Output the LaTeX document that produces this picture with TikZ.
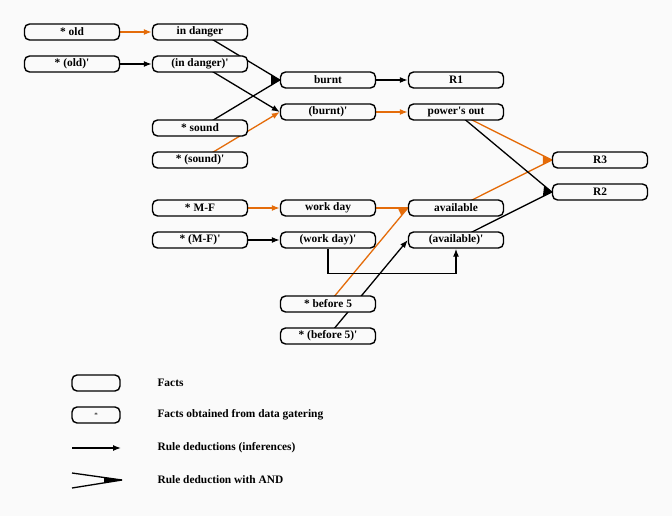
\documentclass[tikz,border=0pt]{standalone}
\usepackage{fontspec}
\setmainfont{Liberation Serif}
\usetikzlibrary{shapes.geometric, arrows, arrows.meta}
\usetikzlibrary{calc}
\definecolor{paper}{RGB}{250,250,250}
\definecolor{orng}{RGB}{228,108,10}
\newcommand{\fcfont}{\fontsize{11.4pt}{13pt}\selectfont\bfseries}
\newcommand{\pr}{\textquotesingle}
\tikzstyle{fact} = [rectangle, rounded corners=5pt, minimum width=95pt, minimum height=16pt, inner sep=1pt, text centered, draw=black, line width=1.4pt, fill=paper, font=\fcfont]
\tikzstyle{arrow} = [-{Latex[length=8pt,width=6pt]}, line width=1.3pt]
\tikzstyle{oarrow} = [arrow, draw=orng]
\tikzstyle{andline} = [line width=1.3pt]
\tikzstyle{keytext} = [anchor=west, font=\fcfont]
% filled wedge between two incoming lines (AND)
\newcommand{\andhead}[5]{\fill[#1] (#2) -- ($(#2)!#5!(#3)$) -- ($(#2)!#5!(#4)$) -- cycle;}
\pgfdeclarelayer{bg}
\pgfdeclarelayer{lines}
\pgfsetlayers{bg,lines,main}

\begin{document}
\begin{tikzpicture}[x=1pt, y=-1pt, node distance=128pt]
	\useasboundingbox (0,0) rectangle (672,516);
	\begin{pgfonlayer}{bg}
	\fill[paper] (0,0) rectangle (672,516);
	\end{pgfonlayer}
	% facts
	\node (old) [fact] at (72,32) {* old};
	\node (oldn) [fact] at (72,64) {* (old)\pr};
	\node (indanger) [fact, right of=old] {in danger};
	\node (indangern) [fact, right of=oldn] {(in danger)\pr};
	\node (sound) [fact] at (200,128) {* sound};
	\node (soundn) [fact] at (200,160) {* (sound)\pr};
	\node (MF) [fact] at (200,208) {* M-F};
	\node (MFn) [fact] at (200,240) {* (M-F)\pr};
	\node (burnt) [fact, right of=indanger, yshift=-48pt] {burnt};
	\node (burntn) [fact, right of=indangern, yshift=-48pt] {(burnt)\pr};
	\node (R1) [fact, right of=burnt] {R1};
	\node (power) [fact, right of=burntn] {power\pr s out};
	\node (workday) [fact, right of=MF] {work day};
	\node (workdayn) [fact, right of=MFn] {(work day)\pr};
	\node (avail) [fact, right of=workday] {available};
	\node (availn) [fact, right of=workdayn] {(available)\pr};
	\node (before) [fact] at (328,304) {* before 5};
	\node (beforen) [fact] at (328,336) {* (before 5)\pr};
	\node (R3) [fact, right of=power, xshift=16pt, yshift=-48pt] {R3};
	\node (R2) [fact, right of=avail, xshift=16pt, yshift=16pt] {R2};
	% deductions
	\begin{pgfonlayer}{lines}
	\draw [oarrow] (old) -- (indanger);
	\draw [arrow] (oldn) -- (indangern);
	\draw [andline] (indanger.center) -- (burnt.west);
	\draw [andline] (sound.center) -- (burnt.west);
	\andhead{black}{burnt.west}{indanger.center}{sound.center}{10pt}
	\draw [arrow] (indangern.center) -- (burntn.west);
	\draw [oarrow] (soundn.center) -- (burntn.west);
	\draw [arrow] (burnt) -- (R1);
	\draw [oarrow] (burntn) -- (power);
	\draw [oarrow] (MF) -- (workday);
	\draw [arrow] (MFn) -- (workdayn);
	\draw [andline, orng] (workday) -- (avail.west);
	\draw [andline, orng] (before.center) -- (avail.west);
	\andhead{orng}{avail.west}{workday.center}{before.center}{10pt}
	\draw [arrow] (workdayn.south) -- ++(0,25) -| (availn.south);
	\draw [arrow] (beforen.center) -- (availn.west);
	\draw [andline, orng] (power.center) -- (R3.west);
	\draw [andline, orng] (avail.center) -- (R3.west);
	\andhead{orng}{R3.west}{power.center}{avail.center}{10pt}
	\draw [andline] (power.center) -- (R2.west);
	\draw [andline] (availn.center) -- (R2.west);
	\andhead{black}{R2.west}{power.center}{availn.center}{10pt}
	\end{pgfonlayer}
	% key
	\node (keyfact) [fact, minimum width=48pt] at (96,383) {};
	\node (keystar) [fact, minimum width=48pt, font=\scriptsize] at (96,415) {*};
	\coordinate (keyA) at (72,448);
	\coordinate (keyB) at (121,448);
	\coordinate (keyC) at (72,473);
	\coordinate (keyD) at (72,488);
	\coordinate (keyE) at (122,480);
	\draw [arrow] (keyA) -- (keyB);
	\draw [andline] (keyC) -- (keyE);
	\draw [andline] (keyD) -- (keyE);
	\andhead{black}{keyE}{keyC}{keyD}{18pt}
	\node (txtfact) [keytext] at (154,383) {Facts};
	\node (txtstar) [keytext] at (154,415) {Facts obtained from data gatering};
	\node (txtarrow) [keytext] at (154,448) {Rule deductions (inferences)};
	\node (txtand) [keytext] at (154,480) {Rule deduction with AND};
\end{tikzpicture}
\end{document}
